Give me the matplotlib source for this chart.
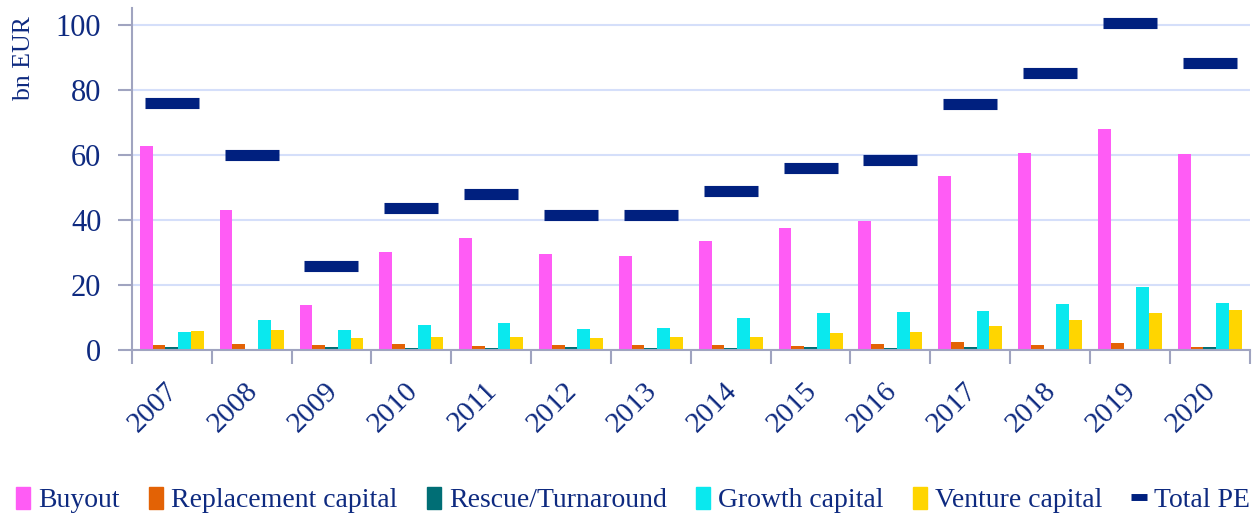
import numpy as np
import matplotlib
matplotlib.use("Agg")
import matplotlib.pyplot as plt
import matplotlib.transforms as mtransforms
from matplotlib.lines import Line2D
from matplotlib.patches import Patch

plt.rcParams.update({"font.family": "Liberation Serif"})

years = ["2007", "2008", "2009", "2010", "2011", "2012", "2013",
         "2014", "2015", "2016", "2017", "2018", "2019", "2020"]
buyout = [62.6, 43.0, 13.8, 30.0, 34.4, 29.5, 29.0, 33.4, 37.5, 39.6, 53.4, 60.4, 67.8, 60.1]
replacement = [1.5, 1.8, 1.5, 1.8, 1.2, 1.5, 1.5, 1.5, 1.2, 1.8, 2.5, 1.6, 2.1, 1.0]
rescue = [0.9, 0.3, 0.9, 0.7, 0.6, 0.8, 0.6, 0.6, 0.9, 0.6, 0.8, 0.2, 0.2, 0.8]
growth = [5.5, 9.1, 6.3, 7.8, 8.2, 6.5, 6.8, 9.8, 11.4, 11.6, 11.9, 14.2, 19.5, 14.5]
venture = [5.9, 6.1, 3.8, 3.9, 4.1, 3.6, 4.0, 4.1, 5.1, 5.4, 7.5, 9.2, 11.4, 12.3]
total_pe = [76.0, 60.0, 25.8, 43.6, 47.9, 41.4, 41.4, 49.0, 55.8, 58.3, 75.5, 85.0, 100.5, 88.1]

series = [("Buyout", buyout, "#ff5cf5"),
          ("Replacement capital", replacement, "#e36205"),
          ("Rescue/Turnaround", rescue, "#006e75"),
          ("Growth capital", growth, "#0ae8ee"),
          ("Venture capital", venture, "#ffd500")]
NAVY = "#00207f"
TXT = "#0e2a80"
AXC = "#a0a4c0"

fig = plt.figure(figsize=(12.56, 5.17), dpi=100)
ax = fig.add_axes([0.105, 0.323, 0.890, 0.661])

x = np.arange(len(years))
w = 0.16
for i, (name, vals, col) in enumerate(series):
    ax.bar(x + (i - 2) * w, vals, width=w, color=col, zorder=2)
ax.plot(x, total_pe, ls="none", marker="_", ms=39, mew=8, color=NAVY, zorder=3)

ax.set_xlim(-0.5, len(years) - 0.5)
ax.set_ylim(0, 105)
ax.set_yticks([0, 20, 40, 60, 80, 100])
ax.grid(axis="y", color="#d5dffa", lw=1.5, zorder=0)
ax.set_axisbelow(True)
for s in ("top", "right"):
    ax.spines[s].set_visible(False)
for s in ("left", "bottom"):
    ax.spines[s].set_color(AXC)
    ax.spines[s].set_linewidth(1.5)

ax.set_xticks(x)
ax.set_xticklabels(years, rotation=45, ha="right", rotation_mode="anchor")
ax.set_xticks(np.arange(len(years) + 1) - 0.5, minor=True)
ax.tick_params(axis="x", which="major", length=0, pad=20, labelsize=21, labelcolor=TXT)
ax.tick_params(axis="x", which="minor", length=10, width=1.5, color=AXC)
ax.tick_params(axis="y", length=10, width=1.5, color=AXC, labelsize=22,
               labelcolor=TXT, pad=12)
shift = mtransforms.ScaledTranslation(-7 / 100, 0, fig.dpi_scale_trans)
for lab in ax.get_xticklabels():
    lab.set_transform(lab.get_transform() + shift)

ax.set_ylabel("bn EUR", fontsize=18.5, color=TXT)
ax.yaxis.set_label_coords(-0.087, 0.855)

handles = [Patch(color=c, label=n) for n, _, c in series]
handles.append(Line2D([], [], ls="none", marker="_", ms=11, mew=5, color=NAVY,
                      label="Total PE"))
fig.legend(handles=handles, loc="center", bbox_to_anchor=(0.504, 0.033), ncol=6,
           frameon=False, fontsize=20, labelcolor=TXT, handlelength=0.5,
           handleheight=0.85, handletextpad=0.3, columnspacing=1.05)

fig.savefig("out.png", dpi=100)
